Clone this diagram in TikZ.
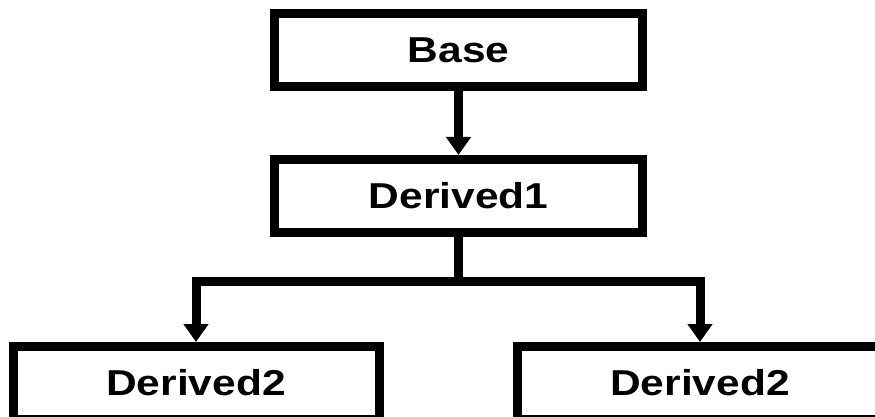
\documentclass[tikz,border=0pt]{standalone}
\usepackage{fontspec}
\setmainfont{Liberation Sans}
\usetikzlibrary{arrows.meta}
\begin{document}
\begin{tikzpicture}[x=1pt,y=-1pt,
  classbox/.style={draw=black, line width=9pt, fill=white, minimum width=368pt, minimum height=73pt,
    inner sep=0pt, font=\fontsize{36}{40}\selectfont\bfseries},
  conn/.style={draw=black, line width=9pt},
  arr/.style={conn, -{Triangle[width=24pt,length=18pt]}}]
\path[use as bounding box, fill=white] (0,0) rectangle (875,417);
\clip (0,0) rectangle (875,417);
\node[classbox] (base) at (458.5,50) {\scalebox{1.18}[1]{Base}};
\node[classbox] (d1) at (458.5,196) {\scalebox{1.18}[1]{Derived1}};
\node[classbox, minimum width=366pt] (d2l) at (196,383) {\scalebox{1.18}[1]{Derived2}};
\node[classbox, minimum width=366pt] (d2r) at (700,383) {\scalebox{1.18}[1]{Derived2}};
\coordinate (j) at (458.5,281);
\draw[arr] (base.south) -- (d1.north);
\draw[conn] (d1.south) -- (j);
\draw[arr] (j) -| (d2l.north);
\draw[arr] (j) -| (d2r.north);
\end{tikzpicture}
\end{document}
